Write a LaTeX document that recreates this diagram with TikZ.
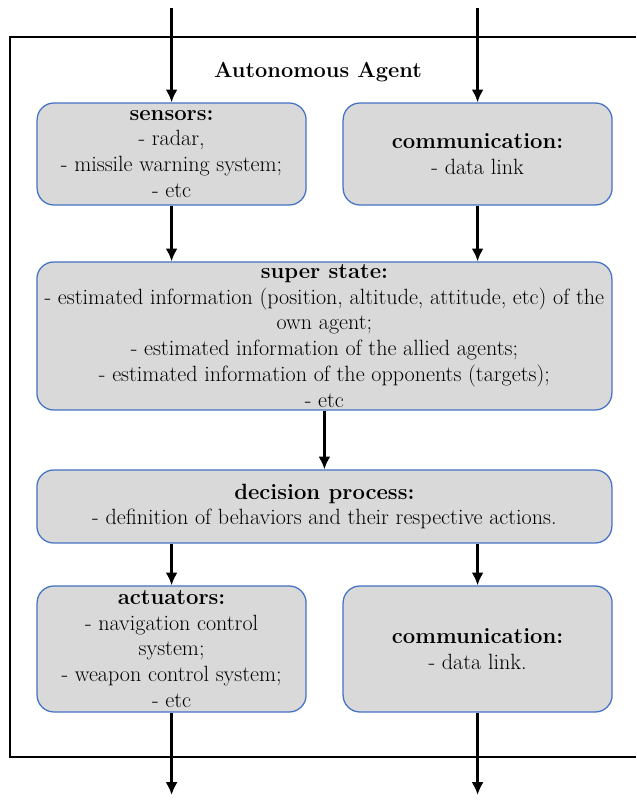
\documentclass[tikz,border=0pt]{standalone}
\usetikzlibrary{shapes,arrows,positioning,calc,arrows.meta}
\definecolor{boxblue}{RGB}{68,114,196}
\definecolor{boxgray}{RGB}{217,217,217}

\begin{document}
\begin{tikzpicture}[
    block/.style={rectangle, rounded corners=12pt, draw=boxblue, line width=0.9pt, fill=boxgray, align=center, inner sep=0pt, font=\fontsize{15.7}{18.4}\selectfont},
    smallblock/.style={block, minimum width=6.725cm},
    wideblock/.style={block, minimum width=14.375cm},
    flow/.style={-{Latex[length=3.2mm, width=3mm]}, line width=1.9pt, black},
    title/.style={font=\fontsize{15.5}{19}\selectfont\bfseries}
]
\useasboundingbox (0,0) rectangle (15.9,20);

% Frame (open on the right)
\draw[line width=2.1pt] (15.9,19.075) -- (0.25,19.075) -- (0.25,1.075) -- (15.9,1.075);

% Title
\node[title] (title) at (7.95, 18.2) {Autonomous Agent};

% Inputs
\node[smallblock, minimum height=2.55cm] (sensors) at (4.29, 16.15) {\textbf{sensors:}\\- radar,\\- missile warning system;\\- etc};
\node[smallblock, minimum height=2.55cm] (commin) at (11.94, 16.15) {\textbf{communication:}\\- data link};

% Super state
\node[wideblock, minimum height=3.7cm] (super) at (8.11, 11.6) {\textbf{super state:}\\- estimated information (position, altitude, attitude, etc) of the\\own agent;\\- estimated information of the allied agents;\\- estimated information of the opponents (targets);\\- etc};

% Decision
\node[wideblock, minimum height=1.825cm] (decision) at (8.11, 7.3375) {\textbf{decision process:}\\- definition of behaviors and their respective actions.};

% Outputs
\node[smallblock, minimum height=3.15cm] (actuators) at (4.29, 3.775) {\textbf{actuators:}\\- navigation control\\system;\\- weapon control system;\\- etc};
\node[smallblock, minimum height=3.15cm] (commout) at (11.94, 3.775) {\textbf{communication:}\\- data link.};

% Free ends
\coordinate (inleft) at (4.29, 19.8);
\coordinate (inright) at (11.94, 19.8);
\coordinate (outleft) at (4.29, 0.125);
\coordinate (outright) at (11.94, 0.125);

% Arrows
\draw[flow] (inleft) -- (sensors.north);
\draw[flow] (inright) -- (commin.north);
\draw[flow] (sensors.south) -- (sensors.south |- super.north);
\draw[flow] (commin.south) -- (commin.south |- super.north);
\draw[flow] (super.south) -- (decision.north);
\draw[flow] (actuators.north |- decision.south) -- (actuators.north);
\draw[flow] (commout.north |- decision.south) -- (commout.north);
\draw[flow] (actuators.south) -- (outleft);
\draw[flow] (commout.south) -- (outright);

\end{tikzpicture}
\end{document}
